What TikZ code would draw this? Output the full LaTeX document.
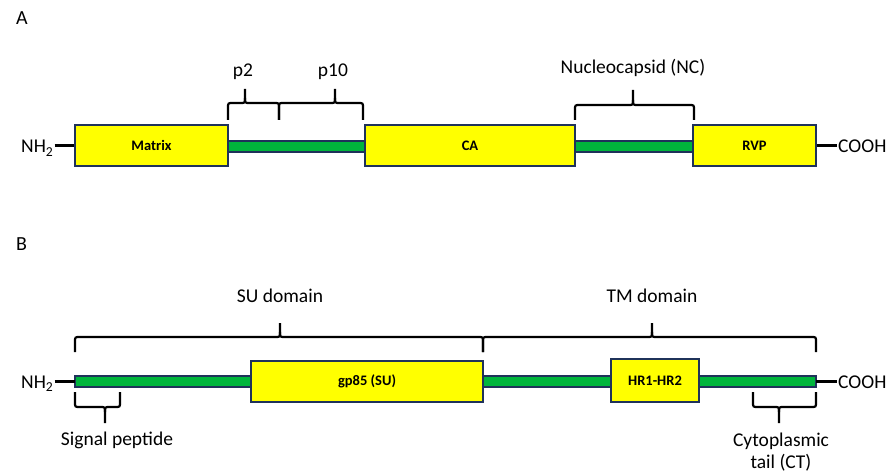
\documentclass[tikz,border=0pt]{standalone}
\usepackage{fontspec}
\setmainfont{Carlito}
\definecolor{boxyellow}{RGB}{255,255,0}
\definecolor{bargreen}{RGB}{0,181,60}
\definecolor{edgenavy}{RGB}{31,50,90}
\tikzset{
  dombox/.style={draw=edgenavy, line width=2pt, fill=boxyellow, inner sep=0pt, font=\fontsize{14.5}{16}\selectfont\bfseries},
  barpart/.style={draw=edgenavy, line width=1.6pt, fill=bargreen},
  brace/.style={draw=black, line width=2.2pt},
  lbl/.style={font=\fontsize{19.5}{22}\selectfont, inner sep=1pt, anchor=base},
  term/.style={draw=black, line width=2.6pt},
}
\newcommand{\BrUp}[6]{%
  \draw[brace] (#1,#4) -- (#1,#5+5) .. controls (#1,#5) .. (#1+5,#5) -- (#3-5,#5) .. controls (#3,#5) .. (#3,#5-5) -- (#3,#6);
  \draw[brace] (#2,#4) -- (#2,#5+5) .. controls (#2,#5) .. (#2-5,#5) -- (#3+5,#5) .. controls (#3,#5) .. (#3,#5-5);
}
\newcommand{\BrDn}[6]{%
  \draw[brace] (#1,#4) -- (#1,#5-5) .. controls (#1,#5) .. (#1+5,#5) -- (#3-5,#5) .. controls (#3,#5) .. (#3,#5+5) -- (#3,#6);
  \draw[brace] (#2,#4) -- (#2,#5-5) .. controls (#2,#5) .. (#2-5,#5) -- (#3+5,#5) .. controls (#3,#5) .. (#3,#5+5);
}
\begin{document}
\begin{tikzpicture}[x=1pt,y=-1pt]
\path[use as bounding box, fill=white] (0,0) rectangle (894,476);

% ---------- Part A ----------
\node[lbl, anchor=base west, font=\fontsize{20}{22}\selectfont] (labA) at (15,25) {A};

\draw[barpart] (228,141) rectangle (365,152);
\draw[barpart] (575,141) rectangle (693,152);

\node[dombox, minimum width=153pt, minimum height=41pt] (matrix) at (151.5,145.5) {Matrix};
\node[dombox, minimum width=210pt, minimum height=41pt] (ca) at (470,145.5) {CA};
\node[dombox, minimum width=123pt, minimum height=41pt] (rvp) at (754.5,145.5) {RVP};

\node[lbl, anchor=base west] (nha) at (20,153) {NH\textsubscript{2}};
\node[lbl, anchor=base west] (cooha) at (837,153) {COOH};
\draw[term] (nha.east |- matrix.west) -- (matrix.west);
\draw[term] (rvp.east) -- (cooha.west |- rvp.east);

\BrUp{228}{279}{245}{120}{103}{89}
\BrUp{279}{363}{335}{120}{103}{89}
\BrUp{575}{694}{633}{120}{105}{90}

\node[lbl] (p2) at (243,77) {p2};
\node[lbl] (p10) at (333,77) {p10};
\node[lbl] (nc) at (633,74) {Nucleocapsid (NC)};

% ---------- Part B ----------
\node[lbl, anchor=base west, font=\fontsize{20}{22}\selectfont] (labB) at (15,250) {B};

\draw[barpart] (75,376) rectangle (816,387);
\node[dombox, minimum width=232pt, minimum height=41pt] (gp85) at (367,381.5) {gp85 (SU)};
\node[dombox, minimum width=88pt, minimum height=43pt] (hr) at (655,380.5) {HR1-HR2};
\coordinate (bstart) at (75,381.5);
\coordinate (bend) at (816,381.5);

\node[lbl, anchor=base west] (nhb) at (20,388) {NH\textsubscript{2}};
\node[lbl, anchor=base west] (coohb) at (837,388) {COOH};
\draw[term] (nhb.east |- bstart) -- (bstart);
\draw[term] (bend) -- (coohb.west |- bend);

\BrUp{75}{483}{280}{352}{337}{323}
\BrUp{483}{816}{652}{352}{337}{323}
\BrDn{75}{120}{105}{392}{407}{423}
\BrDn{753}{816}{779}{392}{407}{423}

\node[lbl] (su) at (280,302) {SU domain};
\node[lbl] (tm) at (652,302) {TM domain};
\node[lbl] (sp) at (117,445) {Signal peptide};
\node[lbl] (ct1) at (781,446) {Cytoplasmic};
\node[lbl] (ct2) at (781,468) {tail (CT)};
\end{tikzpicture}
\end{document}
